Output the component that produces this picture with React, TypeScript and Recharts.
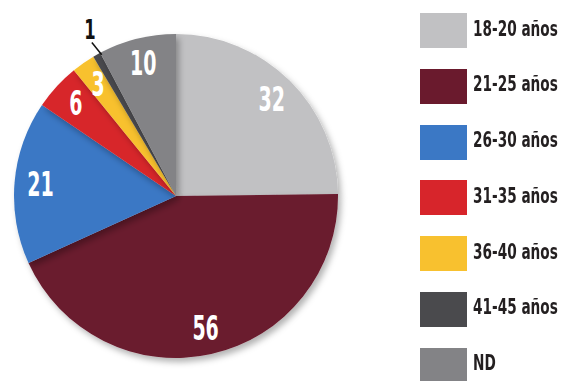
import React from "react";
import { PieChart, Pie, Cell, Legend } from "recharts";

const categories = ["18-20 años", "21-25 años", "26-30 años", "31-35 años", "36-40 años", "41-45 años", "ND"];
const values = [32, 56, 21, 6, 3, 1, 10];
const colors = ["#c1c1c3", "#6a1a2d", "#3b78c5", "#d7252b", "#f8c12f", "#4a4a4d", "#838386"];

const data = categories.map((name, i) => ({ name, value: values[i] }));

const RAD = Math.PI / 180;
const labelFont = "'DejaVu Sans Condensed', 'DejaVu Sans', sans-serif";

const renderLabel = (props: any) => {
  const { cx, cy, midAngle, outerRadius, value } = props;
  const a = -midAngle * RAD;
  if (value === 1) {
    const x1 = cx + outerRadius * Math.cos(a) + 5;
    const y1 = cy + outerRadius * Math.sin(a);
    const x2 = cx + (outerRadius + 14) * Math.cos(a) + 2;
    const y2 = cy + (outerRadius + 14) * Math.sin(a);
    const tx = cx + (outerRadius + 30) * Math.cos(a) + 8;
    const ty = cy + (outerRadius + 30) * Math.sin(a) + 1;
    return (
      <g>
        <line x1={x1} y1={y1} x2={x2} y2={y2} stroke="#111" strokeWidth={1.5} />
        <text transform={`translate(${tx},${ty}) scale(0.7,1)`} x={0} y={0} fill="#111" fontFamily={labelFont} fontWeight="bold" fontSize={26} textAnchor="middle" dominantBaseline="central">
          {value}
        </text>
      </g>
    );
  }
  const r = outerRadius * 0.84;
  const x = cx + r * Math.cos(a);
  const y = cy + r * Math.sin(a);
  return (
    <text transform={`translate(${x},${y}) scale(0.64,1)`} x={0} y={0} fill="#fff" fontFamily={labelFont} fontWeight="bold" fontSize={33} textAnchor="middle" dominantBaseline="central">
      {value}
    </text>
  );
};

const renderLegend = () => (
  <div style={{ fontFamily: labelFont }}>
    {categories.map((c, i) => (
      <div key={c} style={{ display: "flex", alignItems: "center", height: 35, marginBottom: i < categories.length - 1 ? 20.8 : 0 }}>
        <div style={{ width: 47, height: 35, background: colors[i], flexShrink: 0 }} />
        <span style={{ marginLeft: 6, marginTop: -4, fontSize: 20.5, fontWeight: "bold", color: "#231f20", whiteSpace: "nowrap", display: "inline-block", transform: "scaleX(0.74)", transformOrigin: "left center" }}>{c}</span>
      </div>
    ))}
  </div>
);

export default function App() {
  return (
    <div style={{ width: 564, height: 381, overflow: "hidden", background: "#fff" }}>
      <style>{`body{margin:0;overflow:hidden;}`}</style>
      <PieChart width={564} height={381} margin={{ top: 0, right: 0, bottom: 0, left: 0 }}>
        <defs>
          <filter id="pieShadow" x="-10%" y="-10%" width="130%" height="130%">
            <feDropShadow dx="3" dy="4" stdDeviation="3" floodColor="#000" floodOpacity="0.3" />
          </filter>
        </defs>
        <Pie
          data={data}
          dataKey="value"
          nameKey="name"
          cx={176}
          cy={196}
          outerRadius={162}
          startAngle={90}
          endAngle={-270}
          stroke="none"
          label={renderLabel}
          labelLine={false}
          isAnimationActive={false}
          style={{ filter: "url(#pieShadow)" }}
        >
          {data.map((d, i) => (
            <Cell key={d.name} fill={colors[i]} />
          ))}
        </Pie>
        <Legend
          layout="vertical"
          align="right"
          verticalAlign="top"
          content={renderLegend}
          wrapperStyle={{ position: "absolute", left: 420, top: 13, width: 144 }}
        />
      </PieChart>
    </div>
  );
}
